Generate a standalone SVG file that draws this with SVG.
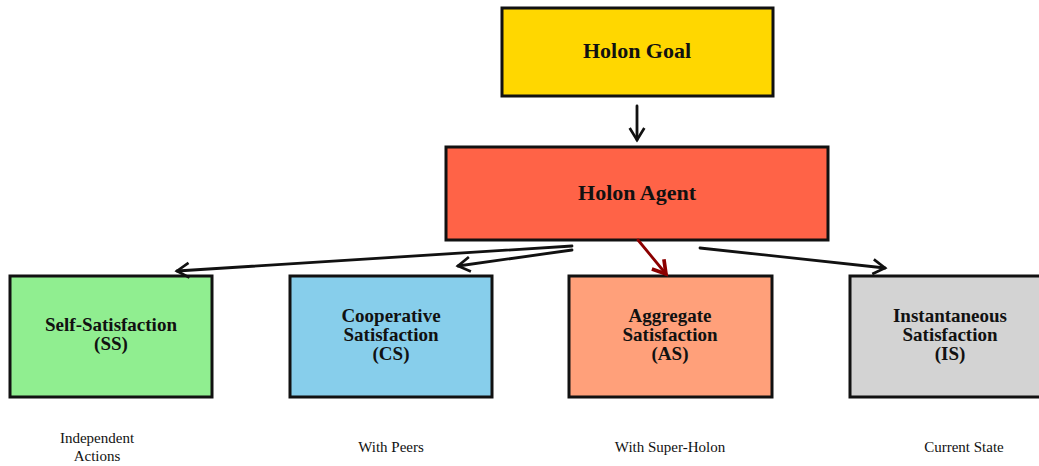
<svg xmlns="http://www.w3.org/2000/svg" width="1039" height="466" viewBox="0 0 1039 466">
<style>
.box{stroke:#111;stroke-width:3}
.lbl{font-family:"Liberation Serif","Times New Roman",serif;font-weight:bold;font-size:19px;fill:#111;text-anchor:middle}
.big{font-size:22px}
.sub{font-family:"Liberation Serif","Times New Roman",serif;font-size:15px;fill:#111;text-anchor:middle}
.con{fill:none;stroke-width:2.8;stroke-linecap:round}
</style>
<defs>
<marker id="ah" viewBox="0 0 12 12" refX="11" refY="6" markerWidth="16" markerHeight="16" markerUnits="userSpaceOnUse" orient="auto" overflow="visible">
<path d="M2,0.5 L11,6 L2,11.5" fill="none" stroke="#111" stroke-width="2"/>
</marker>
<marker id="ahr" viewBox="0 0 12 12" refX="11" refY="6" markerWidth="17" markerHeight="17" markerUnits="userSpaceOnUse" orient="auto" overflow="visible">
<path d="M2,0.5 L11,6 L2,11.5" fill="none" stroke="#8B0000" stroke-width="2.6"/>
</marker>
</defs>
<g id="holon-goal">
<rect class="box" x="502" y="8" width="271" height="88" fill="#FFD700"/>
<text class="lbl big" x="637" y="58">Holon Goal</text>
</g>
<g id="holon-agent">
<rect class="box" x="446" y="147" width="382" height="93" fill="#FF6347"/>
<text class="lbl big" x="637" y="200">Holon Agent</text>
</g>
<g id="ss">
<rect class="box" x="10" y="276" width="202" height="121" fill="#90EE90"/>
<text class="lbl" x="111" y="331">Self-Satisfaction</text>
<text class="lbl" x="111" y="350">(SS)</text>
</g>
<g id="cs">
<rect class="box" x="290" y="276" width="202" height="121" fill="#87CEEB"/>
<text class="lbl" x="391" y="322">Cooperative</text>
<text class="lbl" x="391" y="341">Satisfaction</text>
<text class="lbl" x="391" y="360">(CS)</text>
</g>
<g id="as">
<rect class="box" x="569" y="276" width="203" height="121" fill="#FFA07A"/>
<text class="lbl" x="670" y="322">Aggregate</text>
<text class="lbl" x="670" y="341">Satisfaction</text>
<text class="lbl" x="670" y="360">(AS)</text>
</g>
<g id="is">
<rect class="box" x="850" y="276" width="200" height="121" fill="#D3D3D3"/>
<text class="lbl" x="950" y="322">Instantaneous</text>
<text class="lbl" x="950" y="341">Satisfaction</text>
<text class="lbl" x="950" y="360">(IS)</text>
</g>
<g id="captions">
<text class="sub" x="97" y="443">Independent</text>
<text class="sub" x="97" y="461">Actions</text>
<text class="sub" x="391" y="452">With Peers</text>
<text class="sub" x="670" y="452">With Super-Holon</text>
<text class="sub" x="964" y="452">Current State</text>
</g>
<g id="connectors">
<line class="con" x1="637" y1="106" x2="637" y2="140" stroke="#111" marker-end="url(#ah)"/>
<line class="con" x1="572" y1="246" x2="177" y2="271" stroke="#111" marker-end="url(#ah)"/>
<line class="con" x1="572" y1="250" x2="458" y2="266" stroke="#111" marker-end="url(#ah)"/>
<line class="con" x1="638" y1="240" x2="666" y2="274" stroke="#8B0000" stroke-width="4" marker-end="url(#ahr)"/>
<line class="con" x1="700" y1="248" x2="885" y2="268" stroke="#111" marker-end="url(#ah)"/>
</g>
</svg>
